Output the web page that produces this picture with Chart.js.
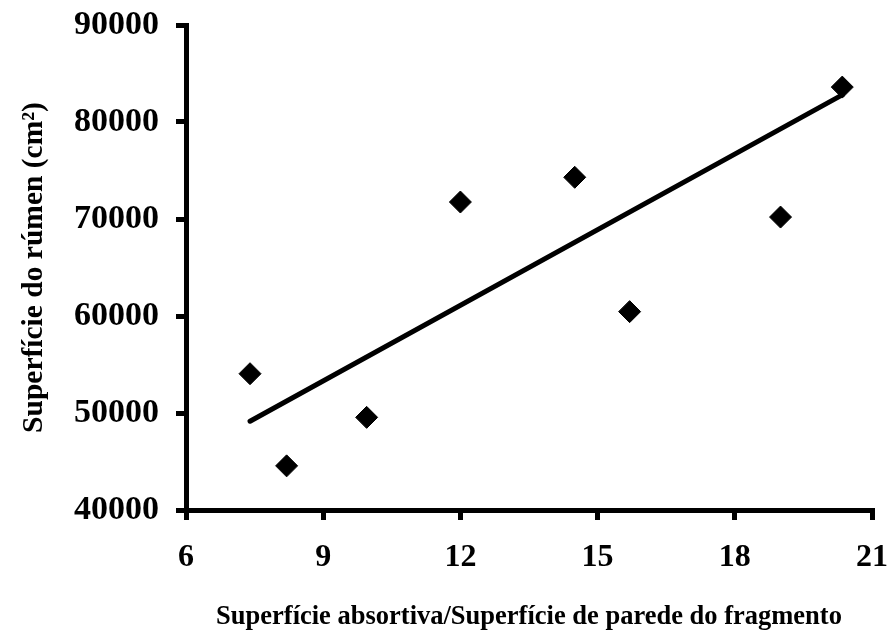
<!DOCTYPE html>
<html>
<head>
<meta charset="utf-8">
<script src="https://cdn.jsdelivr.net/npm/chart.js@4"></script>
<style>
    body { margin: 0; background: #fff; }
    #wrap { width: 892px; height: 635px; }
</style>
</head>
<body>
<div id="wrap"><canvas id="rumenChart" width="892" height="635"></canvas></div>
<script>
// points
const ratioValues = [7.4, 8.2, 9.95, 12.0, 14.5, 15.7, 19.0, 20.35];
const surfaceValues = [54050, 44550, 49550, 71750, 74300, 60450, 70200, 83600];

// fitted line, its two ends
const trendX = [7.4, 20.35];
const trendY = [49150, 82800];

const xTicks = [6, 9, 12, 15, 18, 21];
const yTicks = [40000, 50000, 60000, 70000, 80000, 90000];

const xTitle = "Superfície absortiva/Superfície de parede do fragmento";
const yTitle = "Superfície do rúmen (cm²)";

const serif = "'Liberation Serif', 'Times New Roman', serif";

const points = ratioValues.map((x, i) => ({ x: x, y: surfaceValues[i] }));
const trend = trendX.map((x, i) => ({ x: x, y: trendY[i] }));

function axisGrid() {
    return {
        drawOnChartArea: false,
        drawTicks: true,
        tickLength: 10,
        tickWidth: 5,
        tickColor: "#000",
        lineWidth: 5,
        color: "#000"
    };
}

new Chart(document.getElementById("rumenChart"), {
    type: "scatter",
    data: {
        datasets: [
            {
                label: "dados",
                data: points,
                pointStyle: "rectRot",
                pointRadius: 11,
                pointHoverRadius: 11,
                backgroundColor: "#000",
                borderColor: "#000",
                borderWidth: 1,
                clip: false
            },
            {
                label: "tendência",
                type: "line",
                data: trend,
                borderColor: "#000",
                borderWidth: 5,
                borderCapStyle: "round",
                pointRadius: 0,
                fill: false,
                clip: false
            }
        ]
    },
    options: {
        responsive: false,
        animation: false,
        layout: { padding: { top: 25, right: 20, left: 0, bottom: 0 } },
        plugins: {
            legend: { display: false },
            tooltip: { enabled: false }
        },
        scales: {
            x: {
                type: "linear",
                min: xTicks[0],
                max: xTicks[xTicks.length - 1],
                afterBuildTicks: s => { s.ticks = xTicks.map(v => ({ value: v })); },
                afterFit: s => {
                    s.height = 125;
                    s.paddingLeft = 0;
                    s.paddingRight = 0;
                },
                border: { display: true, width: 5, color: "#000" },
                grid: axisGrid(),
                ticks: {
                    color: "#000",
                    padding: 19,
                    font: { family: serif, size: 32, weight: "bold" },
                    callback: v => String(v)
                },
                title: {
                    display: true,
                    text: xTitle,
                    color: "#000",
                    padding: { top: 0, bottom: 2 },
                    font: { family: serif, size: 26.5, weight: "bold" }
                }
            },
            y: {
                type: "linear",
                min: yTicks[0],
                max: yTicks[yTicks.length - 1],
                afterBuildTicks: s => { s.ticks = yTicks.map(v => ({ value: v })); },
                afterFit: s => {
                    s.width = 186;
                    s.paddingTop = 0;
                    s.paddingBottom = 0;
                },
                border: { display: true, width: 5, color: "#000" },
                grid: axisGrid(),
                ticks: {
                    color: "#000",
                    padding: 17,
                    font: { family: serif, size: 34, weight: "bold" },
                    callback: v => String(v)
                },
                title: {
                    display: true,
                    text: yTitle,
                    color: "#000",
                    padding: { top: 17, bottom: 0 },
                    font: { family: serif, size: 29.5, weight: "bold" }
                }
            }
        }
    }
});
</script>
</body>
</html>
